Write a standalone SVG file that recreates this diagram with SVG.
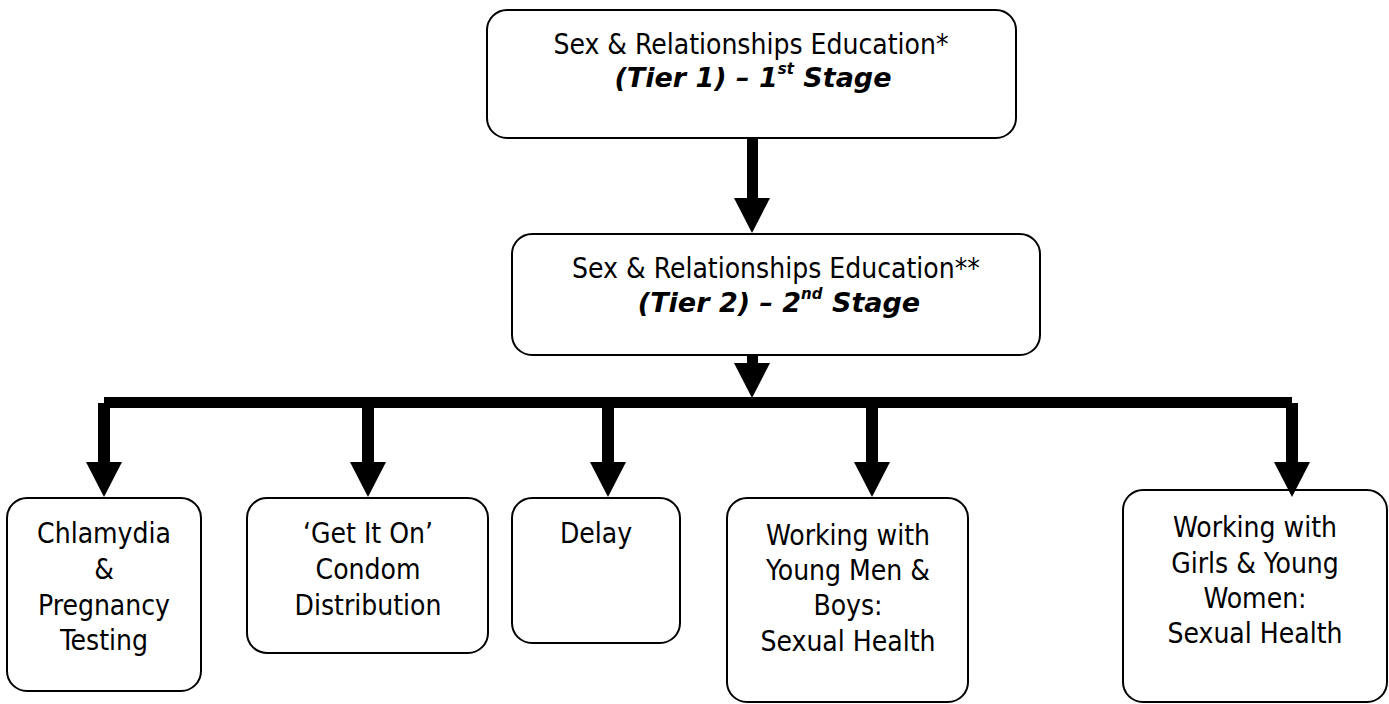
<svg xmlns="http://www.w3.org/2000/svg" xmlns:xlink="http://www.w3.org/1999/xlink" width="1389" height="704" viewBox="0 0 1389 704">
<style>
.box{fill:#fff;stroke:#000;stroke-width:2}
.t{font-family:"DejaVu Sans Condensed","DejaVu Sans",sans-serif;font-stretch:condensed;font-size:28px;fill:#000;text-anchor:middle}
.bi{font-family:"DejaVu Sans",Verdana,sans-serif;font-size:27px;font-weight:bold;font-style:italic;fill:#000;text-anchor:middle}
.sup{font-size:15px}
.c{fill:#000}
</style>
<defs>
<path id="ah" d="M-18,-35 L18,-35 L0,0 Z" fill="#000"/>
</defs>
<rect width="1389" height="704" fill="#fff"/>
<g id="connectors">
<rect class="c" x="747" y="137" width="11" height="64"/>
<use href="#ah" x="752" y="233"/>
<rect class="c" x="747" y="354" width="11" height="15"/>
<use href="#ah" x="752" y="398"/>
<rect class="c" x="104" y="397" width="1188" height="11"/>
<rect class="c" x="98" y="403" width="12" height="62"/>
<use href="#ah" x="104" y="497"/>
<rect class="c" x="362" y="407" width="12" height="58"/>
<use href="#ah" x="368" y="497"/>
<rect class="c" x="602" y="407" width="12" height="58"/>
<use href="#ah" x="608" y="497"/>
<rect class="c" x="866" y="407" width="12" height="58"/>
<use href="#ah" x="872" y="497"/>
<rect class="c" x="1286" y="403" width="12" height="62"/>
</g>
<g id="tier1">
<rect class="box" x="487" y="10" width="529" height="128" rx="20"/>
<text class="t" x="751" y="54">Sex &amp; Relationships Education*</text>
<text class="bi" x="753" y="87">(Tier 1) – 1<tspan class="sup" dy="-13">st</tspan><tspan dy="13"> Stage</tspan></text>
</g>
<g id="tier2">
<rect class="box" x="512" y="234" width="528" height="121" rx="20"/>
<text class="t" x="776" y="278">Sex &amp; Relationships Education**</text>
<text class="bi" x="779" y="312">(Tier 2) – 2<tspan class="sup" dy="-13">nd</tspan><tspan dy="13"> Stage</tspan></text>
</g>
<g id="chlamydia">
<rect class="box" x="7" y="498" width="194" height="193" rx="20"/>
<text class="t" x="104" y="543">Chlamydia</text>
<text class="t" x="104" y="579">&amp;</text>
<text class="t" x="104" y="615">Pregnancy</text>
<text class="t" x="104" y="650">Testing</text>
</g>
<g id="getiton">
<rect class="box" x="247" y="498" width="241" height="155" rx="20"/>
<text class="t" x="368" y="543">‘Get It On’</text>
<text class="t" x="368" y="579">Condom</text>
<text class="t" x="368" y="615">Distribution</text>
</g>
<g id="delay">
<rect class="box" x="512" y="498" width="168" height="145" rx="20"/>
<text class="t" x="596" y="543">Delay</text>
</g>
<g id="youngmen">
<rect class="box" x="727" y="498" width="241" height="204" rx="20"/>
<text class="t" x="848" y="545">Working with</text>
<text class="t" x="848" y="580">Young Men &amp;</text>
<text class="t" x="848" y="615">Boys:</text>
<text class="t" x="848" y="651">Sexual Health</text>
</g>
<g id="girls">
<rect class="box" x="1123" y="490" width="264" height="212" rx="20"/>
<text class="t" x="1255" y="537">Working with</text>
<text class="t" x="1255" y="573">Girls &amp; Young</text>
<text class="t" x="1255" y="608">Women:</text>
<text class="t" x="1255" y="643">Sexual Health</text>
</g>
<g id="connectors-top">
<use href="#ah" x="1292" y="497"/>
</g>
</svg>
